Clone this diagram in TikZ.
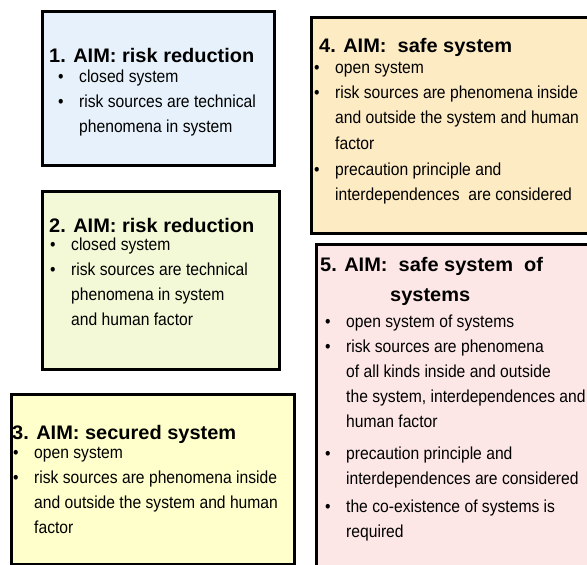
\documentclass[tikz,border=0pt]{standalone}
\usepackage{fontspec}
\setmainfont{Liberation Sans}[FakeStretch=0.9]
\newfontfamily\headfont{Liberation Sans}[FakeStretch=1.02]
\usetikzlibrary{positioning}

\definecolor{aimblue}{HTML}{E6F1FB}
\definecolor{aimgreen}{HTML}{F3F8D6}
\definecolor{aimyellow}{HTML}{FFFFCC}
\definecolor{aimwheat}{HTML}{FDEBC4}
\definecolor{aimpink}{HTML}{FDE6E6}

\newcommand{\topstrut}{\rule{0pt}{20pt}}
\newcommand{\itm}{\makebox[21pt][l]{\textbullet}}
\newcommand{\cnt}{\hspace*{21pt}}

\tikzset{
  aimbox/.style={draw=black, line width=2.8pt, anchor=north west, inner sep=0pt},
  aimhead/.style={anchor=north west, inner sep=0pt, align=left,
    font=\headfont\fontsize{19.6}{30}\selectfont\bfseries, execute at begin node=\topstrut},
  aimlist/.style={anchor=north west, inner sep=0pt, align=left,
    font=\fontsize{17.4}{25}\selectfont, execute at begin node=\topstrut},
}

\begin{document}
\begin{tikzpicture}[x=1pt,y=-1pt]
\useasboundingbox (0,0) rectangle (587,565);
\clip (0,0) rectangle (587,565);
% boxes
\node[aimbox,fill=aimblue,minimum width=232pt,minimum height=154pt] (box1) at (41,10) {};
\node[aimbox,fill=aimgreen,minimum width=237pt,minimum height=178pt] (box2) at (41,190) {};
\node[aimbox,fill=aimyellow,minimum width=283pt,minimum height=170pt] (box3) at (10,393) {};
\node[aimbox,fill=aimwheat,minimum width=290pt,minimum height=216pt] (box4) at (310,16) {};
\node[aimbox,fill=aimpink,minimum width=290pt,minimum height=340pt] (box5) at (315,243) {};
% 1
\node[aimhead] (head1) at (49,42) {1. AIM: risk reduction};
\node[aimlist] (list1) at (58,70) {\itm closed system\\
  \itm risk sources are technical\\ \cnt phenomena in system};
% 2
\node[aimhead] (head2) at (49,212) {2. AIM: risk reduction};
\node[aimlist] (list2) at (50,238) {\itm closed system\\
  \itm risk sources are technical\\ \cnt phenomena in system\\ \cnt and human factor};
% 3
\node[aimhead] (head3) at (12,419) {3. AIM: secured system};
\node[aimlist] (list3) at (13,447) {\itm open system\\
  \itm risk sources are phenomena inside\\ \cnt and outside the system and human\\ \cnt factor};
% 4
\node[aimhead] (head4) at (319,32) {4. AIM:\ \ safe system};
\node[aimlist] (list4) at (314,62) {\itm open system\\
  \itm risk sources are phenomena inside\\ \cnt and outside the system and human\\[1pt] \cnt factor\\[1pt]
  \itm precaution principle and\\ \cnt interdependences\ \ are considered};
% 5
\node[aimhead] (head5) at (320,257) {5. AIM:\ \ safe system\ \ of\\ \hspace*{70pt}systems};
\node[aimlist] (list5) at (325,315) {\itm open system of systems\\
  \itm risk sources are phenomena\\ \cnt of all kinds inside and outside\\
  \cnt the system, interdependences and\\ \cnt human factor\\[7pt]
  \itm precaution principle and\\ \cnt interdependences are considered\\[3pt]
  \itm the co-existence of systems is\\ \cnt required};
\end{tikzpicture}
\end{document}
